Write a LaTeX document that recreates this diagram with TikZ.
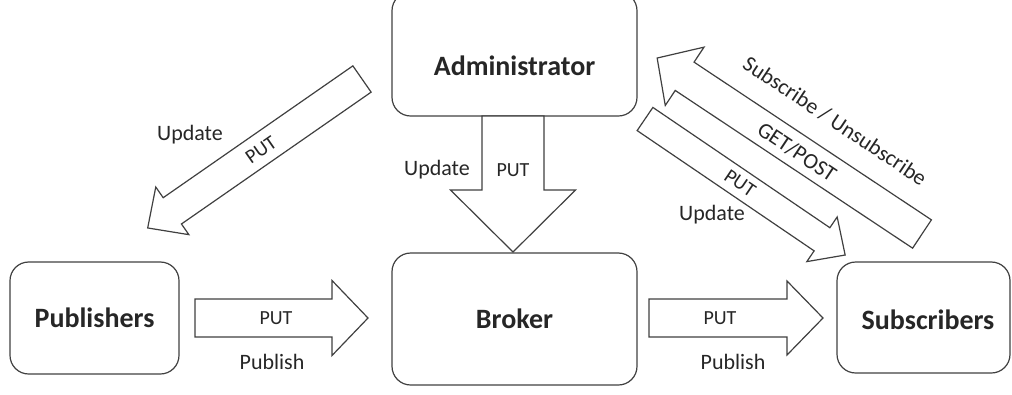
\documentclass[tikz,border=0pt]{standalone}
\usepackage{fontspec}
\setmainfont{Carlito}
\definecolor{linec}{HTML}{404040}
\definecolor{txtc}{HTML}{262626}
\newcommand\blockarrow[6]{%
  \begin{scope}[shift={(#1)}, rotate=#2]
    \draw[barrow] (0,-#4) -- ({#3-#6},-#4) -- ({#3-#6},-#5) -- (#3,0) -- ({#3-#6},#5) -- ({#3-#6},#4) -- (0,#4) -- cycle;
  \end{scope}}
\tikzset{
  box/.style={draw=linec, line width=0.9pt, rounded corners=14pt, inner sep=0pt,
    font=\fontsize{21}{24}\selectfont\bfseries, text=txtc},
  boxtext/.style={font=\fontsize{21}{24}\selectfont\bfseries, text=txtc, inner sep=0pt},
  barrow/.style={draw=linec, line width=0.9pt, fill=white, line join=miter},
  lbl/.style={font=\fontsize{16.5}{19}\selectfont, text=txtc, inner sep=0pt},
  put/.style={font=\fontsize{15}{17}\selectfont, text=txtc, inner sep=0pt}
}
\begin{document}
\begin{tikzpicture}[x=0.75pt,y=-0.75pt]
\useasboundingbox (0,0) rectangle (1012,394);
\clip (0,0) rectangle (1012,394);

% boxes
\node[box, minimum width=183.75pt, minimum height=93pt] (admin) at (514.5,54) {};
\node[boxtext] (admintext) at (514.5,66) {Administrator};
\node[box, minimum width=126.75pt, minimum height=84pt] (pub) at (94.5,318) {Publishers};
\node[box, minimum width=183.75pt, minimum height=99pt] (broker) at (514.5,319) {Broker};
\node[box, minimum width=129.75pt, minimum height=83.25pt] (sub) at (923.5,317.5) {};
\node[boxtext] (subtext) at (928,320) {Subscribers};

% block arrow tails
\coordinate (t1) at (195,318);
\coordinate (t2) at (649,318);
\coordinate (t3) at (513,116);
\coordinate (t4) at (362,79);
\coordinate (t5) at (922,234);
\coordinate (t6) at (645,119);

\blockarrow{t1}{0}{173}{19}{37.5}{36}
\blockarrow{t2}{0}{174}{19}{37}{36}
\blockarrow{t3}{-90}{136}{31}{62.5}{62}
\blockarrow{t4}{214.8}{261}{16}{29}{30}
\blockarrow{t5}{146.4}{318}{17}{35}{33}
\blockarrow{t6}{-34.2}{242}{14}{27}{28}

% labels
\node[put] (put1) at (276,318) {PUT};
\node[lbl] (publ1) at (272,362) {Publish};
\node[put] (put2) at (720,318) {PUT};
\node[lbl] (publ2) at (733,362) {Publish};
\node[lbl] (upd3) at (437,170) {Update};
\node[put] (put3) at (513,170) {PUT};
\node[lbl] (upd4) at (190,135) {Update};
\node[put, rotate=34.8] (put4) at (261,150) {PUT};
\node[lbl, rotate=-33.6] (getpost) at (797,152) {GET/POST};
\node[lbl, rotate=-33.6] (subunsub) at (835,121) {Subscribe / Unsubscribe};
\node[put, rotate=-34.2] (put6) at (740,183) {PUT};
\node[lbl] (upd6) at (712,215) {Update};
\end{tikzpicture}
\end{document}
